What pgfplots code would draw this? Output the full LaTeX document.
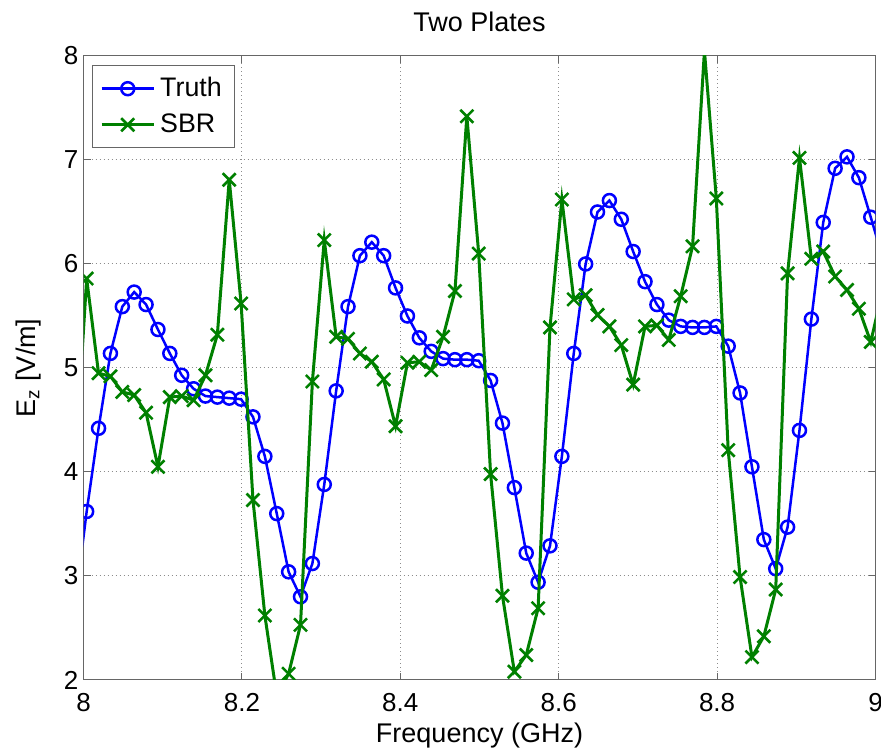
\documentclass[border=0pt]{standalone}
\usepackage{fontspec}
\setmainfont{Liberation Sans}
\usepackage{pgfplots}
\usepackage{pgfplotstable}
\pgfplotsset{compat=1.18}
\definecolor{mblue}{rgb}{0,0,1}
\definecolor{mgreen}{rgb}{0,0.5,0}

\pgfplotstableread{
x truth sbr
7.989 2.70 4.00
8.004 3.62 5.86
8.019 4.42 4.95
8.034 5.14 4.92
8.049 5.59 4.77
8.064 5.73 4.74
8.079 5.61 4.57
8.094 5.37 4.05
8.109 5.14 4.72
8.124 4.93 4.73
8.139 4.80 4.69
8.154 4.73 4.93
8.169 4.72 5.32
8.184 4.71 6.81
8.199 4.70 5.62
8.214 4.53 3.73
8.229 4.15 2.62
8.244 3.60 1.85
8.259 3.04 2.06
8.274 2.80 2.53
8.289 3.12 4.87
8.304 3.88 6.23
8.319 4.78 5.30
8.334 5.59 5.28
8.349 6.08 5.14
8.364 6.21 5.06
8.379 6.08 4.89
8.394 5.77 4.44
8.409 5.50 5.05
8.424 5.29 5.06
8.439 5.16 4.98
8.454 5.09 5.30
8.469 5.08 5.74
8.484 5.08 7.42
8.499 5.07 6.10
8.514 4.88 3.98
8.529 4.47 2.81
8.544 3.85 2.08
8.559 3.22 2.24
8.574 2.94 2.69
8.589 3.29 5.39
8.604 4.15 6.62
8.619 5.14 5.66
8.634 6.00 5.70
8.649 6.50 5.51
8.664 6.61 5.40
8.679 6.43 5.22
8.694 6.12 4.84
8.709 5.83 5.40
8.724 5.61 5.41
8.739 5.46 5.27
8.754 5.40 5.69
8.769 5.39 6.17
8.784 5.39 8.05
8.799 5.40 6.63
8.814 5.21 4.21
8.829 4.76 2.99
8.844 4.05 2.22
8.859 3.35 2.42
8.874 3.07 2.87
8.889 3.47 5.91
8.904 4.40 7.02
8.919 5.47 6.05
8.934 6.40 6.12
8.949 6.92 5.88
8.964 7.03 5.75
8.979 6.83 5.57
8.994 6.45 5.25
9.009 6.06 5.75
}\data

\begin{document}
\begin{tikzpicture}
\begin{axis}[
  scale only axis, width=396pt, height=312pt,
  xmin=8, xmax=9, ymin=2, ymax=8,
  xtick={8,8.2,8.4,8.6,8.8,9},
  xticklabels={8,8.2,8.4,8.6,8.8,9},
  ytick={2,3,4,5,6,7,8},
  tick pos=both, tick align=inside, major tick length=3.5pt,
  grid=major,
  major grid style={black!45, line width=0.5pt, dash pattern=on 0.5pt off 1.5pt},
  axis line style={black!60, line width=0.5pt},
  every tick/.style={black!60, line width=0.5pt},
  clip marker paths=true,
  font=\fontsize{13}{15}\selectfont,
  ticklabel style={font=\fontsize{13}{15}\selectfont},
  /pgf/number format/assume math mode=true,
  xticklabel style={anchor=base, yshift=-15.8pt},
  yticklabel style={xshift=1pt},
  title={Two Plates},
  title style={at={(axis description cs:0.5,1)}, anchor=base, yshift=6.2pt, font=\fontsize{13.5}{16}\selectfont},
  xlabel={Frequency (GHz)},
  xlabel style={at={(axis description cs:0.5,0)}, anchor=base, yshift=-31.5pt, font=\fontsize{13.5}{16}\selectfont},
  ylabel={E\textsubscript{z} [V/m]},
  ylabel style={at={(axis description cs:-0.0612,0.5)}, anchor=base, font=\fontsize{13.5}{16}\selectfont},
  legend style={at={(axis description cs:0.0104,0.9856)}, anchor=north west,
    draw=black!60, line width=0.5pt, fill=white,
    inner xsep=4pt, inner ysep=4pt, row sep=3pt,
    font=\fontsize{13.4}{15}\selectfont,
    nodes={inner xsep=2.5pt, inner ysep=2pt}},
  legend cell align=left,
  legend image code/.code={\draw[mark repeat=2,mark phase=2] plot coordinates {(0pt,0pt) (13pt,0pt) (26pt,0pt)};},
]
\addplot[mblue, line width=1.25pt, mark=o, mark size=3.25pt, mark options={line width=1.25pt, solid}] table[x=x,y=truth]{\data};
\addlegendentry{Truth}
\addplot[mgreen, line width=1.5pt, mark=x, mark size=4.6pt, mark options={line width=1.3pt, solid}] table[x=x,y=sbr]{\data};
\addlegendentry{SBR}
\end{axis}
\pgfresetboundingbox
\path[use as bounding box] ([xshift=-41.75pt,yshift=-38pt]current axis.south west) rectangle ([xshift=2.75pt,yshift=28pt]current axis.north east);
\end{tikzpicture}
\end{document}
